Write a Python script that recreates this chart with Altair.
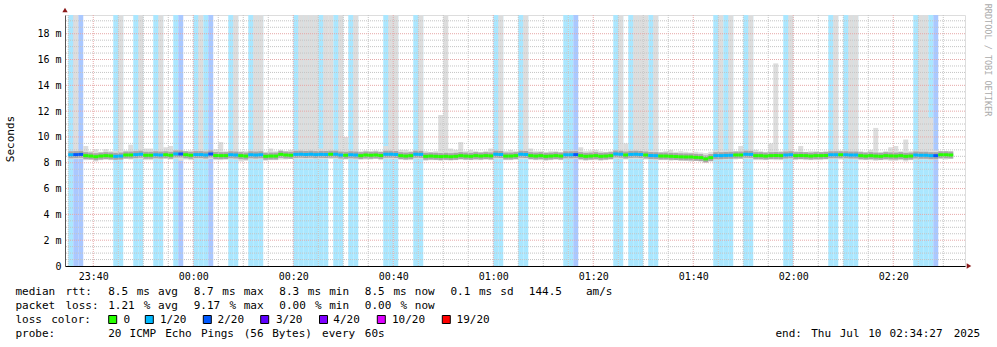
import re
import altair as alt
import pandas as pd

# ---------------- data ----------------
# one column per minute starting 23:35; loss in pings out of 20
loss = [1,2,2,0,0,0,0,0,0,1,
        1,0,0,1,1,0,0,1,1,0,
        0,1,2,0,0,1,1,1,2,0,
        0,0,1,1,0,0,1,1,1,0,
        0,0,0,0,0,1,1,1,1,1,
        1,1,0,1,1,0,1,1,0,0,
        0,0,0,1,1,1,0,0,0,1,
        1,0,0,0,0,0,0,0,0,0,
        0,0,0,0,0,1,1,0,0,0,
        1,1,0,0,0,0,0,0,0,1,
        1,2,0,0,0,0,0,0,0,1,
        1,0,1,1,1,0,1,1,0,0,
        0,0,0,0,0,0,0,0,0,1,
        1,1,1,0,0,1,1,0,0,0,
        0,0,0,1,1,0,0,0,0,0,
        0,0,1,1,0,1,1,1,0,0,
        0,0,0,0,0,0,0,0,0,1,
        1,1,1,2,0,0,0]

med = [8.62,8.63,8.65,8.55,8.52,8.47,8.52,8.55,8.53,8.50,
       8.52,8.60,8.60,8.63,8.66,8.58,8.58,8.62,8.60,8.62,
       8.58,8.68,8.68,8.62,8.58,8.63,8.63,8.60,8.68,8.56,
       8.55,8.55,8.62,8.60,8.55,8.52,8.62,8.60,8.62,8.50,
       8.52,8.52,8.65,8.60,8.58,8.65,8.66,8.64,8.66,8.63,
       8.65,8.64,8.66,8.66,8.60,8.58,8.62,8.60,8.55,8.60,
       8.58,8.60,8.56,8.66,8.66,8.64,8.55,8.52,8.55,8.66,
       8.65,8.50,8.52,8.50,8.48,8.50,8.47,8.50,8.55,8.52,
       8.50,8.55,8.52,8.55,8.53,8.66,8.64,8.52,8.52,8.55,
       8.66,8.64,8.55,8.52,8.55,8.50,8.52,8.55,8.52,8.62,
       8.62,8.63,8.55,8.50,8.52,8.55,8.50,8.52,8.55,8.68,
       8.66,8.60,8.65,8.66,8.64,8.60,8.56,8.55,8.52,8.52,
       8.50,8.48,8.46,8.45,8.45,8.42,8.40,8.30,8.40,8.55,
       8.55,8.57,8.58,8.60,8.60,8.66,8.65,8.55,8.55,8.52,
       8.55,8.56,8.55,8.60,8.62,8.55,8.56,8.55,8.52,8.55,
       8.55,8.56,8.62,8.62,8.62,8.62,8.60,8.60,8.55,8.52,
       8.55,8.52,8.50,8.55,8.53,8.52,8.55,8.50,8.52,8.60,
       8.58,8.58,8.55,8.55,8.62,8.62,8.60]

smoke_lo = [8.30,8.30,8.30,8.20,8.25,8.10,8.20,8.25,8.20,8.25,
            8.25,8.30,8.25,8.30,8.30,8.20,8.20,8.30,8.25,8.30,
            8.25,8.30,8.15,8.25,8.20,8.30,8.30,8.25,8.30,8.20,
            8.20,8.25,8.30,8.25,8.10,8.15,8.30,8.25,8.30,8.15,
            8.20,8.20,8.25,8.25,8.30,8.30,8.30,8.30,8.30,8.30,
            8.30,8.30,8.30,8.30,8.25,8.25,8.30,8.25,8.25,8.25,
            8.25,8.30,8.20,8.30,8.30,8.30,8.25,8.20,8.20,8.30,
            8.30,8.15,8.20,8.20,8.15,8.20,8.20,8.20,8.25,8.20,
            8.20,8.20,8.20,8.25,8.20,8.30,8.30,8.20,8.20,8.25,
            8.30,8.30,8.25,8.20,8.20,8.15,8.20,8.25,8.20,8.30,
            8.30,8.30,8.20,8.15,8.20,8.20,8.15,8.20,8.25,8.30,
            8.30,8.25,8.30,8.30,8.30,8.25,8.25,8.20,8.20,8.20,
            8.15,8.20,8.15,8.15,8.10,8.15,8.10,8.00,8.10,8.25,
            8.25,8.25,8.30,8.25,8.30,8.30,8.30,8.20,8.20,8.20,
            8.25,8.20,8.20,8.30,8.30,8.20,8.25,8.20,8.20,8.20,
            8.20,8.25,8.30,8.30,8.25,8.30,8.30,8.25,8.20,8.20,
            8.20,8.15,8.20,8.20,8.15,8.15,8.20,8.10,8.20,8.25,
            8.25,8.25,8.20,8.25,8.30,8.25,8.30]

smoke_hi = [8.90,19.45,8.95,9.30,8.90,9.05,8.85,9.05,8.90,8.90,
            19.45,8.95,9.40,8.95,19.45,9.10,9.10,8.95,19.45,9.20,
            9.30,9.00,8.95,8.90,8.95,8.95,19.45,8.95,8.95,9.05,
            9.60,8.90,8.95,19.45,8.90,8.90,8.95,19.45,19.45,8.85,
            9.10,8.90,9.00,8.90,9.00,8.95,19.45,19.45,19.45,19.45,
            9.10,19.45,19.45,8.95,19.45,10.00,8.95,19.45,8.90,8.95,
            8.90,8.95,8.90,9.30,19.45,19.45,9.00,9.00,8.90,8.95,
            19.45,8.90,8.85,8.90,11.70,19.45,9.10,9.00,9.60,8.90,
            9.00,8.90,8.85,8.90,9.10,8.95,19.45,8.90,9.00,8.90,
            8.95,19.45,9.10,8.90,8.90,8.85,8.90,8.90,8.85,8.95,
            8.95,8.95,9.20,8.90,8.95,9.00,8.90,8.85,8.90,8.95,
            19.45,9.50,8.95,19.45,19.45,19.45,8.95,19.45,8.85,8.90,
            9.00,8.85,8.90,8.85,8.80,8.85,8.80,8.75,8.85,8.95,
            19.45,8.95,19.45,8.90,9.30,8.95,19.45,9.00,8.90,8.85,
            9.50,15.70,8.90,8.95,19.45,8.90,9.30,8.85,8.90,8.90,
            8.85,8.90,8.95,19.45,8.95,8.95,19.45,19.45,8.90,8.85,
            9.00,10.70,8.85,8.90,9.20,9.30,8.90,9.80,8.90,8.95,
            19.45,19.45,11.50,8.95,8.90,8.90,8.90]

x_tick_values = [40, 60, 80, 100, 120, 140, 160, 180, 200]   # minutes after 23:00
y_tick_values = [0, 2, 4, 6, 8, 10, 12, 14, 16, 18]

legend_labels = ["0", "1/20", "2/20", "3/20", "4/20", "10/20", "19/20"]
legend_colors = ["#26ff00", "#00b8ff", "#0059ff", "#5e00ff", "#7e00ff", "#dd00ff", "#ff0000"]

line_median = "median rtt:  8.5 ms avg  8.7 ms max  8.3 ms min  8.5 ms now  0.1 ms sd  144.5   am/s"
line_loss = "packet loss: 1.21 % avg  9.17 % max  0.00 % min  0.00 % now"
line_probe = "probe:       20 ICMP Echo Pings (56 Bytes) every 60s"
line_end = "end: Thu Jul 10 02:34:27 2025"

# ---------------- layout ----------------
PAD_L, PAD_T, PAD_R, PAD_B = 65, 15, 32, 81
W, H = 900, 251
X_DOM = [34.35, 214.35]
Y_DOM = [0, 19.45]
FONT = "DejaVu Sans Mono"
ADV = 7.13
LFS = 11

xs = alt.Scale(domain=X_DOM, nice=False, zero=False)
ys = alt.Scale(domain=Y_DOM, nice=False, zero=False)

n = len(med)
bg_map = {1: "#aae7ff", 2: "#aac8ff"}
ln_map = {0: "#26ff00", 1: "#00b8ff", 2: "#0059ff"}
df = pd.DataFrame({
    "t0": [35 + k for k in range(n)],
    "t1": [36 + k for k in range(n)],
    "loss": loss, "med": med, "lo": smoke_lo, "hi": smoke_hi,
})
df["bg"] = [bg_map.get(v, "#ffffff") for v in loss]
df["ln"] = [ln_map[v] for v in loss]
df["top"] = Y_DOM[1]
df["bottom"] = 0.0

lbl_x = ("(((floor(datum.value/60)+23)%24) < 10 ? '0' : '') + ((floor(datum.value/60)+23)%24)"
         " + ':' + ((datum.value%60) < 10 ? '0' : '') + (datum.value%60)")
lbl_y = "datum.value == 0 ? '0\u00a0\u00a0' : datum.value + ' m'"

x_axis = alt.Axis(values=x_tick_values, labelExpr=lbl_x, title=None, grid=False, ticks=False,
                  domain=True, domainColor="#000000", labelFont=FONT, labelFontSize=10,
                  labelColor="#000000", labelPadding=5, labelFlush=False, labelOverlap=False)
y_axis = alt.Axis(values=y_tick_values, labelExpr=lbl_y, title=None, grid=False, ticks=False,
                  domain=True, domainColor="#555555", labelFont=FONT, labelFontSize=10,
                  labelColor="#000000", labelPadding=4, labelBaseline="middle", labelOverlap=False)


def X(f):
    return alt.X(f, scale=xs, axis=x_axis)


def Y(f):
    return alt.Y(f, scale=ys, axis=y_axis)


base = alt.Chart(df)

bands = base.transform_filter("datum.loss > 0").mark_rect().encode(
    x=X("t0:Q"), x2="t1:Q", y=Y("top:Q"), y2="bottom:Q",
    color=alt.Color("bg:N", scale=None),
)

smoke = base.mark_rect(color="#dddddd").encode(
    x=X("t0:Q"), x2="t1:Q", y=Y("lo:Q"), y2="hi:Q",
)

inner = base.mark_rule(color="#a6a6a6", strokeWidth=7, strokeCap="butt").encode(
    x=X("t0:Q"), x2="t1:Q", y=Y("med:Q"),
)

# grid
h_minor = pd.DataFrame({"v": [i * 0.5 for i in range(1, 39) if i % 4 != 0]})
h_major = pd.DataFrame({"v": [float(v) for v in y_tick_values if v > 0]})
v_minor = pd.DataFrame({"v": [m for m in range(35, 215, 5) if m % 20 != 0]})
v_major = pd.DataFrame({"v": x_tick_values})

grid_c = "#c4c4c4"
mgrid_c = "#e6a8a8"
g1 = alt.Chart(h_minor).mark_rule(color=grid_c, strokeDash=[1, 1], strokeWidth=1).encode(y=Y("v:Q"))
g2 = alt.Chart(v_minor).mark_rule(color=grid_c, strokeDash=[1, 1], strokeWidth=1).encode(x=X("v:Q"))
g3 = alt.Chart(h_major).mark_rule(color=mgrid_c, strokeDash=[1, 1], strokeWidth=1).encode(y=Y("v:Q"))
g4 = alt.Chart(v_major).mark_rule(color=mgrid_c, strokeDash=[1, 1], strokeWidth=1).encode(x=X("v:Q"))

median_line = base.mark_rule(strokeWidth=3, strokeCap="butt").encode(
    x=X("t0:Q"), x2="t1:Q", y=Y("med:Q"),
    color=alt.Color("ln:N", scale=None),
)

# axis arrows
arr_r = alt.Chart(pd.DataFrame({"x": [X_DOM[1]], "y": [0.0]})).mark_point(
    shape="triangle-right", filled=True, size=28, color="#8b1a1a", opacity=1, xOffset=4).encode(
    x=X("x:Q"), y=Y("y:Q"))
arr_u = alt.Chart(pd.DataFrame({"x": [X_DOM[0]], "y": [Y_DOM[1]]})).mark_point(
    shape="triangle-up", filled=True, size=28, color="#8b1a1a", opacity=1, yOffset=-5).encode(
    x=X("x:Q"), y=Y("y:Q"))

# legend text (monospace grid with wide advance)
rows = []


def add_words(line, x0, y):
    for m in re.finditer(r"\S+", line):
        rows.append({"px": x0 + m.start() * ADV - PAD_L, "py": y - PAD_T, "text": m.group()})


add_words(line_median, 15.5, 295)
add_words(line_loss, 15.5, 309)
add_words("loss color:", 15.5, 323)
add_words(line_probe, 15.5, 337)
add_words(line_end, 775.5, 337)

box_left = [108.7, 145.3, 203.3, 260.7, 319.5, 377.3, 442.3]
lab_left = [123.4, 160.0, 217.6, 276.0, 333.3, 392.0, 456.6]
for lab, lx in zip(legend_labels, lab_left):
    rows.append({"px": lx - PAD_L, "py": 323 - PAD_T, "text": lab})

txt = alt.Chart(pd.DataFrame(rows)).mark_text(
    align="left", baseline="alphabetic", font=FONT, fontSize=LFS, color="#000000").encode(
    x=alt.X("px:Q", scale=None), y=alt.Y("py:Q", scale=None), text="text:N")

boxes = pd.DataFrame({
    "bx": [b - PAD_L for b in box_left],
    "bx2": [b + 8 - PAD_L for b in box_left],
    "by": [315.5 - PAD_T] * len(box_left),
    "by2": [323.5 - PAD_T] * len(box_left),
    "c": legend_colors,
})
box_layer = alt.Chart(boxes).mark_rect(stroke="#000000", strokeWidth=1).encode(
    x=alt.X("bx:Q", scale=None), x2="bx2:Q",
    y=alt.Y("by:Q", scale=None), y2="by2:Q",
    color=alt.Color("c:N", scale=None))

ytitle = alt.Chart(pd.DataFrame({"px": [10.5 - PAD_L], "py": [139 - PAD_T], "t": ["Seconds"]})).mark_text(
    angle=270, align="center", baseline="middle", font=FONT, fontSize=11, color="#000000").encode(
    x=alt.X("px:Q", scale=None), y=alt.Y("py:Q", scale=None), text="t:N")

credit = alt.Chart(pd.DataFrame({"px": [987.7 - PAD_L], "py": [60 - PAD_T], "t": ["RRDTOOL / TOBI OETIKER"]})).mark_text(
    angle=90, align="center", baseline="middle", font=FONT, fontSize=8.5, color="#aaaaaa").encode(
    x=alt.X("px:Q", scale=None), y=alt.Y("py:Q", scale=None), text="t:N")

chart = alt.layer(
    bands, smoke, inner, g1, g2, g3, g4, median_line, arr_r, arr_u,
    txt, box_layer, ytitle, credit,
).properties(
    width=W, height=H,
    padding={"left": PAD_L, "top": PAD_T, "right": PAD_R, "bottom": PAD_B},
    autosize=alt.AutoSizeParams(type="none"),
).configure_view(stroke=None).configure(background="#ffffff")

chart.save("out.html", embed_options={"renderer": "svg", "actions": False})
